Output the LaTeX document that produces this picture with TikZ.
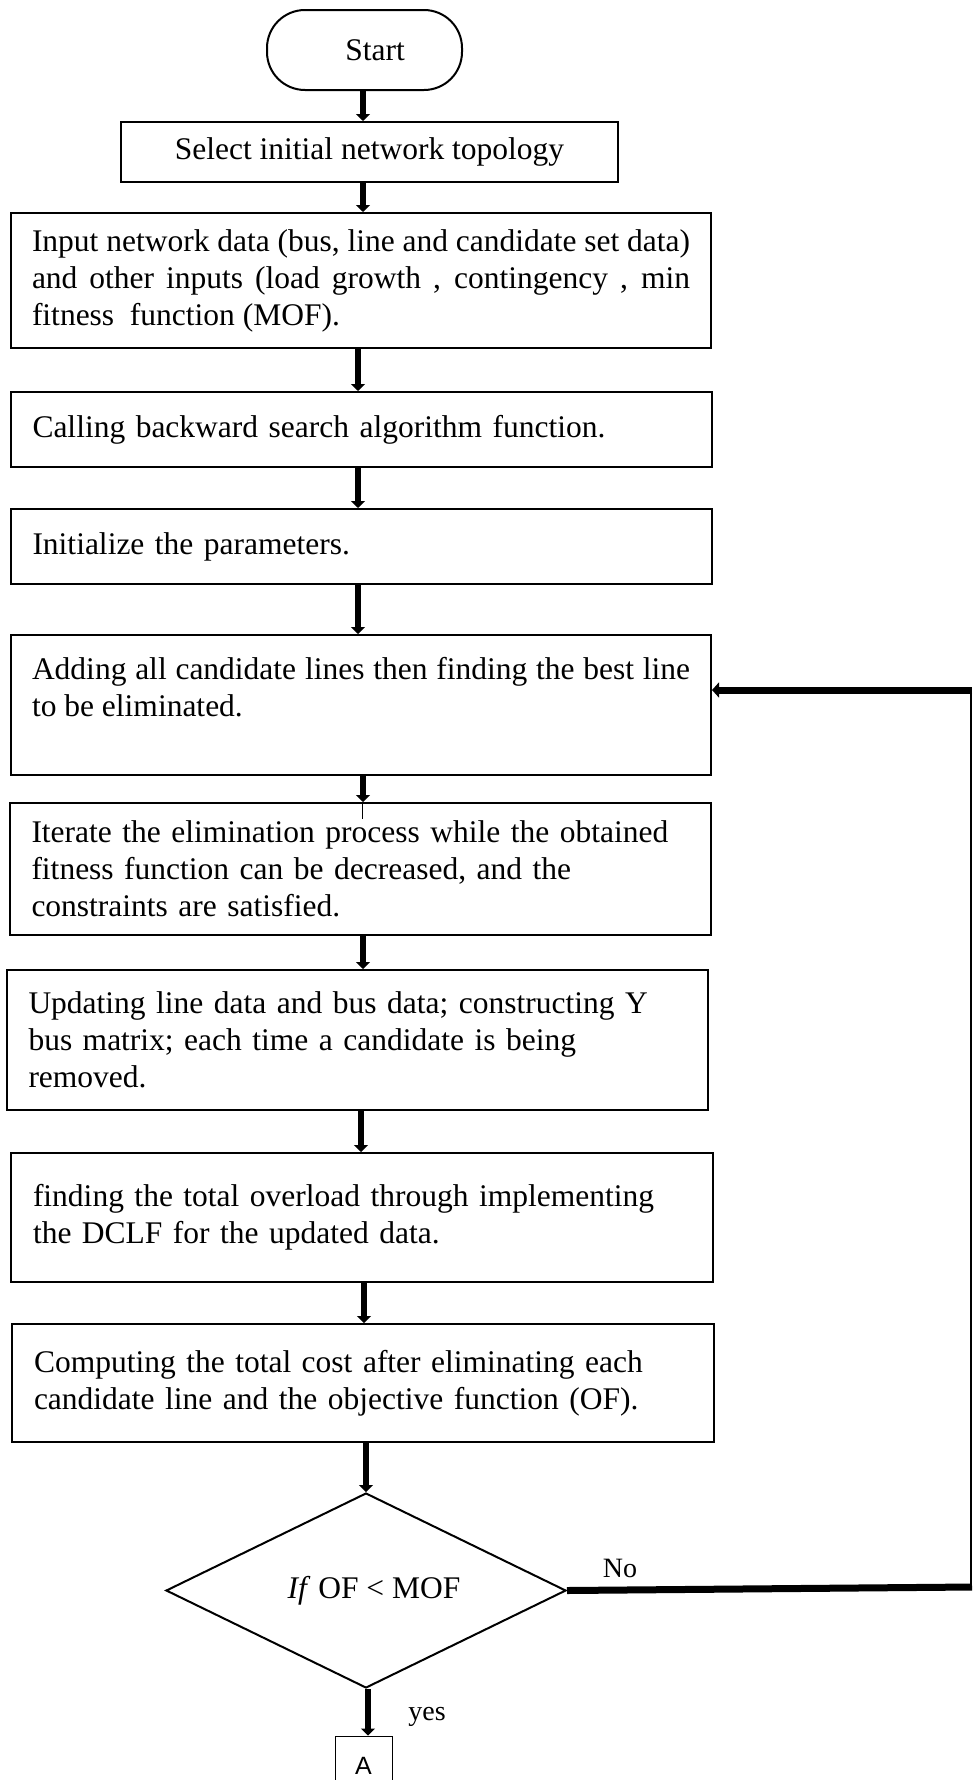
\documentclass[tikz,border=0pt]{standalone}
\usepackage{fontspec}
\setmainfont{Liberation Serif}
\newfontfamily\labelsans{Liberation Sans}
\usetikzlibrary{shapes.geometric,arrows.meta}

\begin{document}
\begin{tikzpicture}[x=1pt,y=-1pt,
  every node/.style={font=\fontsize{31.5}{37}\selectfont},
  stepbox/.style={draw,line width=2pt,rectangle,inner sep=0pt,text width=658pt,align=left},
  justbox/.style={stepbox,align=justify},
  flow/.style={line width=5.5pt,-{Triangle[width=14pt,length=7pt]}},
  backflow/.style={line width=7pt,-{Triangle[width=15pt,length=7pt]}},
  loopline/.style={line width=7pt},
  thinline/.style={line width=1.5pt},
  tag/.style={font=\fontsize{28}{32}\selectfont}
]
\useasboundingbox (0,0) rectangle (972,1780);
\clip (0,0) rectangle (972,1780);

% process steps
\node[draw,line width=2pt,rectangle,rounded corners=38pt,minimum width=195pt,minimum height=80pt,inner sep=0pt]
  (start) at (364.5,50) {\hspace*{21pt}Start};
\node[draw,line width=2pt,rectangle,inner sep=0pt,minimum width=497pt,minimum height=60pt]
  (sel) at (369.5,152) {Select initial network topology};
\node[justbox,minimum width=700pt,minimum height=135pt] (inp) at (361,280.5)
  {Input network data (bus, line and candidate set data)\linebreak
   and other inputs (load growth , contingency , min\linebreak
   fitness\ \ function (MOF).};
\node[stepbox,minimum width=701pt,minimum height=75pt] (call) at (361.5,429.5)
  {Calling backward search algorithm function.};
\node[stepbox,minimum width=701pt,minimum height=75pt] (init) at (361.5,546.5)
  {Initialize the parameters.};
\node[justbox,minimum width=700pt,minimum height=140pt] (add) at (361,705)
  {Adding all candidate lines then finding the best line\linebreak
   to be eliminated.\\\mbox{}};
\node[stepbox,minimum width=701pt,minimum height=132pt] (iter) at (360.5,869)
  {Iterate the elimination process while the obtained\\
   fitness function can be decreased, and the\\
   constraints are satisfied.};
\node[stepbox,minimum width=701pt,minimum height=140pt] (upd) at (357.5,1040)
  {Updating line data and bus data; constructing Y\\
   bus matrix; each time a candidate is being\\
   removed.};
\node[stepbox,minimum width=702pt,minimum height=129pt] (find) at (362,1217.5)
  {finding the total overload through implementing\\
   the DCLF for the updated data.};
\node[stepbox,minimum width=702pt,minimum height=118pt] (comp) at (363,1383)
  {Computing the total cost after eliminating each\\
   candidate line and the objective function (OF).};
\node[draw,line width=2pt,diamond,aspect=2.5,inner sep=0pt,minimum width=400pt,minimum height=195pt]
  (dec) at (366,1590.5) {\hspace*{16pt}\textit{If} OF < MOF};
\node[draw,line width=1pt,rectangle,inner sep=0pt,minimum width=57pt,minimum height=60pt,
  font=\labelsans\fontsize{25}{30}\selectfont] (conn) at (363.5,1766) {A};

% labels
\node[tag] (nolab) at (620,1568) {No};
\node[tag] (yeslab) at (427,1717) {yes};

% arrow columns
\coordinate (cA) at (363,0);
\coordinate (cB) at (358,0);
\coordinate (cC) at (361,0);
\coordinate (cD) at (364,0);
\coordinate (cE) at (366,0);
\coordinate (cF) at (368,0);
\coordinate (cG) at (362,0);

% main flow
\draw[flow] (start.south -| cA) -- (sel.north -| cA);
\draw[flow] (sel.south -| cA) -- (inp.north -| cA);
\draw[flow] (inp.south -| cB) -- (call.north -| cB);
\draw[flow] (call.south -| cB) -- (init.north -| cB);
\draw[flow] (init.south -| cB) -- (add.north -| cB);
\draw[flow] (add.south -| cA) -- (iter.north -| cA);
\draw[line width=0.8pt] (iter.north -| cG) -- ++(0,17);
\draw[flow] (iter.south -| cA) -- (upd.north -| cA);
\draw[flow] (upd.south -| cC) -- (find.north -| cC);
\draw[flow] (find.south -| cD) -- (comp.north -| cD);
\draw[flow] (comp.south -| cE) -- (dec.north);
\draw[flow] (dec.south -| cF) -- (conn.north -| cF);

% "No" branch back to the elimination step
\coordinate (rb) at (971,1587);
\coordinate (rt) at (971,690);
\draw[loopline] (dec.east) -- ([xshift=1pt]rb);
\draw[thinline] (rb) -- (rt);
\draw[backflow] ([xshift=1pt]rt) -- (rt -| add.east);
\end{tikzpicture}
\end{document}
